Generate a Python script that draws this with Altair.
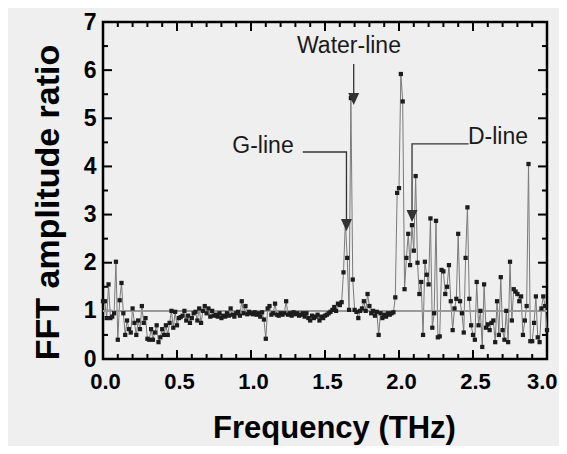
import altair as alt
import pandas as pd

# FFT amplitude ratio, sampled every 0.0125 THz from 0.0 to 3.0 THz
ratio = [
    1.2, 1.2, 0.85, 1.55, 0.85, 0.88, 0.95, 2.02,
    0.4, 1.22, 1.58, 0.95, 0.5, 0.8, 0.62, 0.55,
    1.05, 0.75, 0.5, 0.8, 0.62, 1.1, 0.75, 0.85,
    0.42, 0.4, 0.62, 0.4, 0.55, 0.7, 0.35, 0.45,
    0.62, 0.5, 0.7, 0.5, 0.75, 1.0, 0.65, 0.98,
    0.7, 0.85, 0.87, 0.9, 1.0, 0.8, 0.9, 0.75,
    0.85, 0.95, 0.98, 0.8, 1.05, 0.75, 1.0, 1.1,
    0.95, 1.05, 0.88, 1.0, 0.9, 0.92, 0.88, 0.95,
    0.85, 0.9, 0.88, 0.95, 0.9, 1.05, 0.92, 0.88,
    0.95, 0.98, 0.9, 1.2, 0.95, 1.1, 0.93, 0.98,
    0.95, 0.93, 0.97, 0.92, 0.95, 0.88, 0.97, 0.82,
    0.42, 1.05, 1.1, 0.92, 0.95, 1.15, 0.92, 0.9,
    0.95, 0.92, 0.95, 1.2, 0.92, 0.95, 0.9, 0.97,
    0.93, 0.95, 0.9, 0.92, 0.95, 0.88, 0.95, 0.85,
    0.8, 0.9, 0.85, 0.88, 0.92, 0.8, 0.88, 0.85,
    0.9, 0.92, 0.95, 0.98, 1.02, 1.08, 1.0, 1.15,
    1.12, 1.18, 1.8, 2.85, 2.1, 1.02, 5.42, 1.65,
    1.02, 0.98, 0.85, 1.0, 1.05, 1.2, 1.0, 1.35,
    1.1, 0.95, 1.0, 0.9, 0.98, 0.5, 0.95, 0.85,
    0.92, 0.88, 0.95, 0.92, 0.95, 0.97, 1.28, 3.45,
    3.55, 5.92, 5.35, 1.45, 2.1, 2.6, 1.95, 2.78,
    2.25, 3.8, 2.0, 1.35, 1.6, 0.5, 2.02, 1.75,
    1.55, 2.92, 0.65, 0.95, 2.87, 0.45, 0.47, 1.85,
    1.82, 1.35, 1.5, 1.95, 1.2, 0.6, 1.05, 1.25,
    2.6, 1.2, 0.95, 0.55, 2.1, 3.15, 1.25, 0.7,
    0.5, 0.4, 1.6, 0.7, 1.0, 0.25, 1.55, 0.65,
    0.72, 0.6, 0.75, 0.8, 0.35, 1.2, 0.5, 1.7,
    0.6, 0.4, 1.0, 0.35, 2.02, 0.8, 1.45, 1.4,
    1.35, 1.2, 1.3, 0.5, 0.8, 1.1, 4.05, 0.37,
    0.37, 0.75, 1.3, 0.45, 0.35, 1.05, 1.3, 1.1, 0.6,
]
step = 0.0125
freq = [round(i * step, 4) for i in range(len(ratio))]

# axis tick values
x_major = [0.0, 0.5, 1.0, 1.5, 2.0, 2.5, 3.0]
x_minor = [0.1, 0.2, 0.3, 0.4, 0.6, 0.7, 0.8, 0.9, 1.1, 1.2, 1.3, 1.4,
           1.6, 1.7, 1.8, 1.9, 2.1, 2.2, 2.3, 2.4, 2.6, 2.7, 2.8, 2.9]
y_major = [0, 1, 2, 3, 4, 5, 6, 7]
y_minor = [0.5, 1.5, 2.5, 3.5, 4.5, 5.5, 6.5]

ann_label = ["Water-line", "G-line", "D-line"]
ann_x = [1.662, 1.081, 2.669]
ann_y = [6.50, 4.43, 4.61]

lead_id = ["w", "w", "g", "g", "g", "d", "d", "d"]
lead_x = [1.694, 1.694, 1.35, 1.645, 1.645, 2.47, 2.088, 2.088]
lead_y = [6.13, 5.45, 4.3, 4.3, 2.8, 4.47, 4.47, 3.0]
lead_ord = [0, 1, 0, 1, 2, 0, 1, 2]

arrow_x = [1.694, 1.645, 2.088]
arrow_y = [5.40, 2.78, 2.97]

FONT = "Liberation Sans"
W, H = 444, 337

df = pd.DataFrame({"x": freq, "y": ratio})
ann = pd.DataFrame({"x": ann_x, "y": ann_y, "t": ann_label})
lead = pd.DataFrame({"x": lead_x, "y": lead_y, "id": lead_id, "o": lead_ord})
arr = pd.DataFrame({"x": arrow_x, "y": arrow_y})
xmaj = pd.DataFrame({"tx": x_major[1:-1]})
xmin = pd.DataFrame({"tx": x_minor})
ymaj = pd.DataFrame({"ty": y_major[1:-1]})
ymin = pd.DataFrame({"ty": y_minor})

xs = alt.Scale(domain=[0, 3], nice=False, zero=False)
ys = alt.Scale(domain=[0, 7], nice=False, zero=False)

x_axis = alt.Axis(
    values=x_major, format=".1f",
    ticks=False, domain=False, grid=False,
    labelFont=FONT, labelFontSize=22, labelFontWeight="bold", labelColor="black",
    labelPadding=12, labelOverlap=False, labelFlush=False,
    labelAlign={"condition": {"test": "datum.value >= 3", "value": "right"},
                "value": "center"},
    labelOffset={"condition": {"test": "datum.value >= 3", "value": 10},
                 "value": 2},
    title="Frequency (THz)", titleFont=FONT, titleFontSize=31,
    titleFontWeight="bold", titleColor="black", titlePadding=21,
    titleX=231,
)
y_axis = alt.Axis(
    values=y_major, format="d",
    ticks=False, domain=False, grid=False,
    labelFont=FONT, labelFontSize=23, labelFontWeight="bold", labelColor="black",
    labelPadding=7, labelOverlap=False, labelFlush=False,
    title="FFT amplitude ratio", titleFont=FONT, titleFontSize=34,
    titleFontWeight="bold", titleColor="black", titlePadding=18,
    titleY=180,
)

TICK = "#000000"

def xticks(data, y0, y1):
    return alt.Chart(data).mark_rule(color=TICK, strokeWidth=2).encode(
        x=alt.X("tx:Q", scale=xs, title="Frequency (THz)"),
        y=alt.value(y0), y2=alt.value(y1)
    )

def yticks(data, x0, x1):
    return alt.Chart(data).mark_rule(color=TICK, strokeWidth=2).encode(
        y=alt.Y("ty:Q", scale=ys, title="FFT amplitude ratio"),
        x=alt.value(x0), x2=alt.value(x1)
    )

ref = alt.Chart(df).mark_rule(color="#9a9a9a", strokeWidth=1).encode(
    y=alt.datum(1, scale=ys)
)
line = alt.Chart(df).mark_line(color="#7a7a7a", strokeWidth=1).encode(
    x=alt.X("x:Q", scale=xs, axis=x_axis),
    y=alt.Y("y:Q", scale=ys, axis=y_axis),
)
pts = alt.Chart(df).mark_square(size=18, color="#1c1c1c", opacity=1).encode(
    x=alt.X("x:Q", scale=xs),
    y=alt.Y("y:Q", scale=ys),
)
leaders = alt.Chart(lead).mark_line(color="#333333", strokeWidth=1.3).encode(
    x=alt.X("x:Q", scale=xs),
    y=alt.Y("y:Q", scale=ys),
    detail="id:N",
    order="o:Q",
)
arrows = alt.Chart(arr).mark_point(
    shape="M-1,-1.1L1,-1.1L0,1.1Z", filled=True, size=121,
    color="#333333", opacity=1,
).encode(
    x=alt.X("x:Q", scale=xs),
    y=alt.Y("y:Q", scale=ys),
)
texts = alt.Chart(ann).mark_text(
    font=FONT, fontSize=23, color="#1a1a1a"
).encode(
    x=alt.X("x:Q", scale=xs),
    y=alt.Y("y:Q", scale=ys),
    text="t:N",
)

chart = alt.layer(
    line,
    xticks(xmaj, H, H - 9), xticks(xmin, H, H - 5),
    xticks(xmaj, 0, 9), xticks(xmin, 0, 5),
    yticks(ymaj, 0, 9), yticks(ymin, 0, 5),
    yticks(ymaj, W, W - 9), yticks(ymin, W, W - 5),
    ref, pts, leaders, arrows, texts,
).properties(
    width=W, height=H,
    background="#efefef",
    padding={"left": 95, "top": 14, "right": 12, "bottom": 87},
    autosize=alt.AutoSizeParams(type="none"),
).configure_view(stroke="black", strokeWidth=2.5)

chart.save("out.html", embed_options={"renderer": "svg", "actions": False})
